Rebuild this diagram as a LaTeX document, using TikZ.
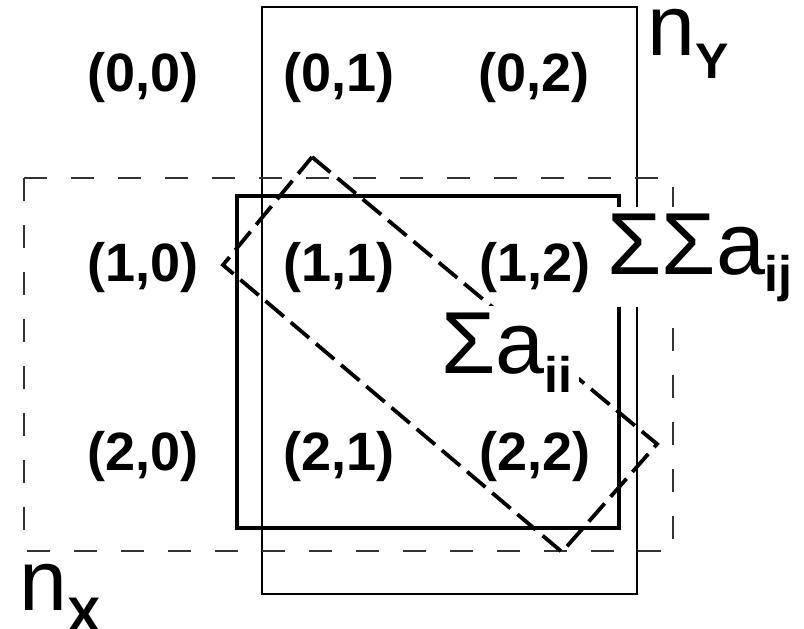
\documentclass[tikz,border=0pt]{standalone}
\usepackage{fontspec}
\setmainfont{Liberation Sans}
\tikzset{
  cell/.style={font=\bfseries\fontsize{54}{54}\selectfont, anchor=base, inner sep=0pt},
  biglabel/.style={font=\fontsize{88}{88}\selectfont, anchor=base, fill=white, inner sep=6pt},
  plainlabel/.style={font=\fontsize{86}{86}\selectfont, anchor=base, inner sep=0pt},
  thinbox/.style={draw=black, line width=1.6pt},
  thickbox/.style={draw=black, line width=3.6pt},
  dashbox/.style={draw=black!80, line width=1.6pt, dash pattern=on 23pt off 24pt},
  diagbox/.style={draw=black, line width=3.8pt, dash pattern=on 24pt off 9pt},
}
\newcommand{\subtxt}[2]{\raisebox{-#1pt}{\bfseries\fontsize{50}{50}\selectfont #2}}
\begin{document}
\begin{tikzpicture}[x=1pt,y=-1pt]
\useasboundingbox (0,0) rectangle (804,629);
% rectangles
\draw[thinbox] (262,7) rectangle (637,594);
\draw[dashbox] (24,178) rectangle (673,551);
\draw[thickbox] (237,196) rectangle (619,528);
\draw[diagbox] (312,157) -- (657,444) -- (562,552) -- (223,265) -- cycle;
% cell labels
\node[cell] (c00) at (143,91) {(0,0)};
\node[cell] (c01) at (339,91) {(0,1)};
\node[cell] (c02) at (534,91) {(0,2)};
\node[cell] (c10) at (143,281) {(1,0)};
\node[cell] (c11) at (339,281) {(1,1)};
\node[cell] (c12) at (535,281) {(1,2)};
\node[cell] (c20) at (143,470) {(2,0)};
\node[cell] (c21) at (339,470) {(2,1)};
\node[cell] (c22) at (535,470) {(2,2)};
% big labels
\node[biglabel] (sij) at (700,274) {ΣΣa\subtxt{17}{ij}};
\node[biglabel] (sii) at (507,373) {Σa\subtxt{19}{ii}};
\node[plainlabel] (ny) at (688,56) {n\subtxt{22}{Y}};
\node[plainlabel] (nx) at (60,610) {n\subtxt{22}{X}};
\end{tikzpicture}
\end{document}
